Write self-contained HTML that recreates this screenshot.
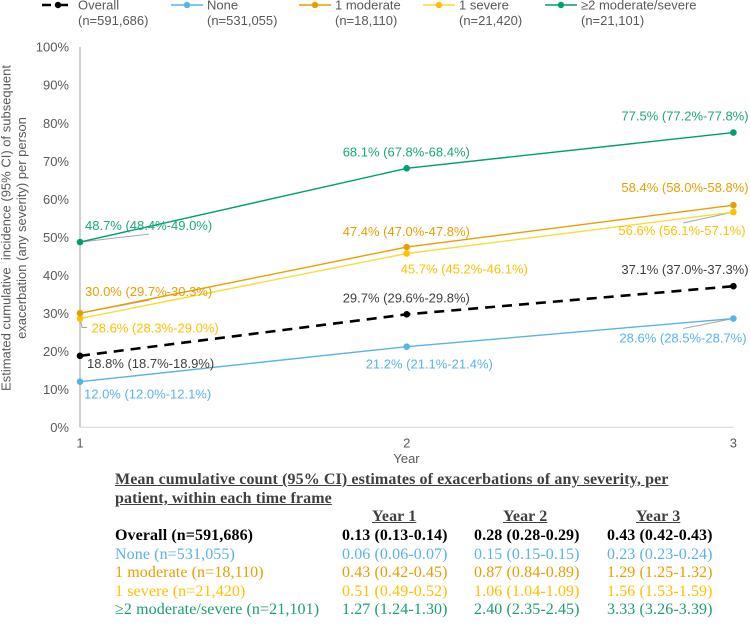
<!DOCTYPE html>
<html lang="en">
<head>
<meta charset="utf-8">
<title>Cumulative incidence of exacerbations</title>
<style>
html,body{margin:0;padding:0;background:#fff;}
#wrap{position:relative;width:750px;height:627px;overflow:hidden;background:#fff;filter:blur(0.3px);}
#chart{position:absolute;left:0;top:0;}
#chart text{font-family:"Liberation Sans",sans-serif;font-size:13px;}
.t{position:absolute;font-family:"Liberation Serif",serif;font-size:16px;line-height:18px;white-space:pre;letter-spacing:.1px;}
.b{font-weight:bold;}
.u{text-decoration:underline;}
.k{color:#000;}.n{color:#56b4e9;}.m{color:#e69f00;}.s{color:#ffc000;}.g{color:#1a9e77;}
.h{color:#404040;}
</style>
</head>
<body>
<div id="wrap">
<svg id="chart" width="750" height="470" viewBox="0 0 750 470" xmlns="http://www.w3.org/2000/svg"></svg>

<div class="t b u h" style="left:115px;top:471px">Mean cumulative count (95% CI) estimates of exacerbations of any severity, per</div>
<div class="t b u h" style="left:115px;top:490px">patient, within each time frame</div>

<div class="t b u h" style="left:372px;top:508px">Year 1</div>
<div class="t b u h" style="left:503px;top:508px">Year 2</div>
<div class="t b u h" style="left:636px;top:508px">Year 3</div>

<div class="t b k" style="left:115px;top:527px">Overall (n=591,686)</div>
<div class="t b k" style="left:342px;top:527px">0.13 (0.13-0.14)</div>
<div class="t b k" style="left:474px;top:527px">0.28 (0.28-0.29)</div>
<div class="t b k" style="left:607px;top:527px">0.43 (0.42-0.43)</div>

<div class="t n" style="left:115px;top:546px">None (n=531,055)</div>
<div class="t n" style="left:342px;top:546px">0.06 (0.06-0.07)</div>
<div class="t n" style="left:474px;top:546px">0.15 (0.15-0.15)</div>
<div class="t n" style="left:607px;top:546px">0.23 (0.23-0.24)</div>

<div class="t m" style="left:115px;top:564px">1 moderate (n=18,110)</div>
<div class="t m" style="left:342px;top:564px">0.43 (0.42-0.45)</div>
<div class="t m" style="left:474px;top:564px">0.87 (0.84-0.89)</div>
<div class="t m" style="left:607px;top:564px">1.29 (1.25-1.32)</div>

<div class="t s" style="left:115px;top:583px">1 severe (n=21,420)</div>
<div class="t s" style="left:342px;top:583px">0.51 (0.49-0.52)</div>
<div class="t s" style="left:474px;top:583px">1.06 (1.04-1.09)</div>
<div class="t s" style="left:607px;top:583px">1.56 (1.53-1.59)</div>

<div class="t g" style="left:115px;top:601px">≥2 moderate/severe (n=21,101)</div>
<div class="t g" style="left:342px;top:601px">1.27 (1.24-1.30)</div>
<div class="t g" style="left:474px;top:601px">2.40 (2.35-2.45)</div>
<div class="t g" style="left:607px;top:601px">3.33 (3.26-3.39)</div>
</div>

<script>
// ---- chart data ----
const years = [1, 2, 3];
const yTicks = [0, 10, 20, 30, 40, 50, 60, 70, 80, 90, 100];

const overallValues  = [18.8, 29.7, 37.1];
const noneValues     = [12.0, 21.2, 28.6];
const moderateValues = [30.0, 47.4, 58.4];
const severeValues   = [28.6, 45.7, 56.6];
const multipleValues = [48.7, 68.1, 77.5];

const overallLabels  = ["18.8% (18.7%-18.9%)", "29.7% (29.6%-29.8%)", "37.1% (37.0%-37.3%)"];
const noneLabels     = ["12.0% (12.0%-12.1%)", "21.2% (21.1%-21.4%)", "28.6% (28.5%-28.7%)"];
const moderateLabels = ["30.0% (29.7%-30.3%)", "47.4% (47.0%-47.8%)", "58.4% (58.0%-58.8%)"];
const severeLabels   = ["28.6% (28.3%-29.0%)", "45.7% (45.2%-46.1%)", "56.6% (56.1%-57.1%)"];
const multipleLabels = ["48.7% (48.4%-49.0%)", "68.1% (67.8%-68.4%)", "77.5% (77.2%-77.8%)"];

// ---- axis functions ----
const xLeft = 80, xRight = 733.4, yBottom = 427.3, yTop = 47;
function xScale(year) { return xLeft + (year - years[0]) / (years[years.length - 1] - years[0]) * (xRight - xLeft); }
function yScale(pct) { return yBottom - pct / 100 * (yBottom - yTop); }

const svg = document.getElementById('chart');
const NS = 'http://www.w3.org/2000/svg';
function mk(tag, attrs, parent) {
  const el = document.createElementNS(NS, tag);
  for (const k in attrs) el.setAttribute(k, attrs[k]);
  (parent || svg).appendChild(el);
  return el;
}
function txt(str, attrs) {
  const el = mk('text', attrs);
  el.textContent = str;
  return el;
}

// axes
const yAxis = mk('line', {x1: xLeft, x2: xLeft, y1: yTop, y2: yBottom, stroke: '#c4c4c4', 'stroke-width': 1.6});


const xAxis = mk('line', {x1: xLeft, x2: xRight, y1: yBottom, y2: yBottom, stroke: '#d9d9d9', 'stroke-width': 1.2});



yTicks.forEach(function (v) {
  const t = txt(v + '%', {x: 69, y: yScale(v) + 4.7, 'text-anchor': 'end', fill: '#595959'});
  
  
});
years.forEach(function (v) {
  const t = txt(String(v), {x: xScale(v), y: 447.5, 'text-anchor': 'middle', fill: '#595959'});
  
  
});
const xTitle = txt('Year', {x: 406.5, y: 463, 'text-anchor': 'middle', fill: '#595959'});



const yTitle1 = txt('Estimated cumulative  incidence (95% CI) of subsequent', {transform: 'translate(10.5,228) rotate(-90)', 'text-anchor': 'middle', fill: '#595959', 'xml:space': 'preserve', style: 'white-space:pre'});


const yTitle2 = txt('exacerbation (any severity) per person', {transform: 'translate(26,228) rotate(-90)', 'text-anchor': 'middle', fill: '#595959'});



// leader lines, anchored on the points they annotate
function leader(points, name) {
  const l = mk('polyline', {points: points.map(function (p) { return p.join(','); }).join(' '), fill: 'none', stroke: '#a6a6a6', 'stroke-width': 1});
  
  
}
leader([[xScale(1), yScale(multipleValues[0])], [xScale(1) + 69, yScale(multipleValues[0]) - 8]], 'leader-multiple-year-1');
leader([[xScale(1), yScale(moderateValues[0])], [xScale(1) + 69, yScale(moderateValues[0]) - 13]], 'leader-moderate-year-1');
leader([[xScale(1), yScale(severeValues[0])], [xScale(1) + 2, yScale(severeValues[0]) + 9], [xScale(1) + 7, yScale(severeValues[0]) + 9]], 'leader-severe-year-1');
leader([[xScale(3), yScale(severeValues[2])], [xScale(3) - 50, yScale(severeValues[2]) + 11]], 'leader-severe-year-3');
leader([[xScale(3), yScale(noneValues[2])], [xScale(3) - 50, yScale(noneValues[2]) + 10]], 'leader-none-year-3');

// series
function drawSeries(values, labels, name, lineColor, dotColor, textColor, width, dash, offsets) {
  const pts = values.map(function (v, i) { return xScale(years[i]) + ',' + yScale(v); }).join(' ');
  const attrs = {points: pts, fill: 'none', stroke: lineColor, 'stroke-width': width};
  if (dash) attrs['stroke-dasharray'] = dash;
  const line = mk('polyline', attrs);
  
  
  values.forEach(function (v, i) {
    const c = mk('circle', {cx: xScale(years[i]), cy: yScale(v), r: 3.3, fill: dotColor});
    
    
    const t = txt(labels[i], {x: xScale(years[i]) + offsets[i][0], y: yScale(v) + offsets[i][1], fill: textColor});
    
    
  });
}
drawSeries(noneValues, noneLabels, 'none', '#56b4e9', '#56b4e9', '#56b4e9', 1.4, null, [[4, 17], [-41, 22], [-114, 24]]);
drawSeries(severeValues, severeLabels, 'severe', '#f7dc3a', '#ffc000', '#ffc000', 1.4, null, [[11.5, 14], [-6, 20], [-115, 23]]);
drawSeries(moderateValues, moderateLabels, 'moderate', '#e69f00', '#e69f00', '#e69f00', 1.4, null, [[5, -17], [-64, -11], [-112, -13]]);
drawSeries(multipleValues, multipleLabels, 'multiple', '#009e73', '#009e73', '#1aa87f', 1.4, null, [[5, -12], [-64, -12], [-112, -12]]);
drawSeries(overallValues, overallLabels, 'overall', '#000000', '#000000', '#404040', 2.6, '10 7', [[7, 12], [-64, -12], [-112, -12]]);

// legend
const legendNames = ['Overall', 'None', '1 moderate', '1 severe', '≥2 moderate/severe'];
const legendCounts = ['(n=591,686)', '(n=531,055)', '(n=18,110)', '(n=21,420)', '(n=21,101)'];
const legendLineColors = ['#000000', '#56b4e9', '#e69f00', '#f7dc3a', '#009e73'];
const legendDotColors = ['#000000', '#56b4e9', '#e69f00', '#ffc000', '#009e73'];
const legendStarts = [42, 171, 299, 423, 545];
legendNames.forEach(function (n, i) {
  const x0 = legendStarts[i];
  const line = mk('line', {x1: x0, x2: i === 0 ? x0 + 26 : x0 + 32, y1: 5, y2: 5, stroke: legendLineColors[i], 'stroke-width': i === 0 ? 2.6 : 1.4});
  if (i === 0) line.setAttribute('stroke-dasharray', '9 4 13');
  
  
  const dot = mk('circle', {cx: x0 + 16, cy: 5, r: 3.2, fill: legendDotColors[i]});
  
  
  const a = txt(n, {x: x0 + 36, y: 9.5, fill: '#595959'});
  
  
  const b = txt(legendCounts[i], {x: x0 + 36, y: 25, fill: '#595959'});
  
  
});
</script>
</body>
</html>
